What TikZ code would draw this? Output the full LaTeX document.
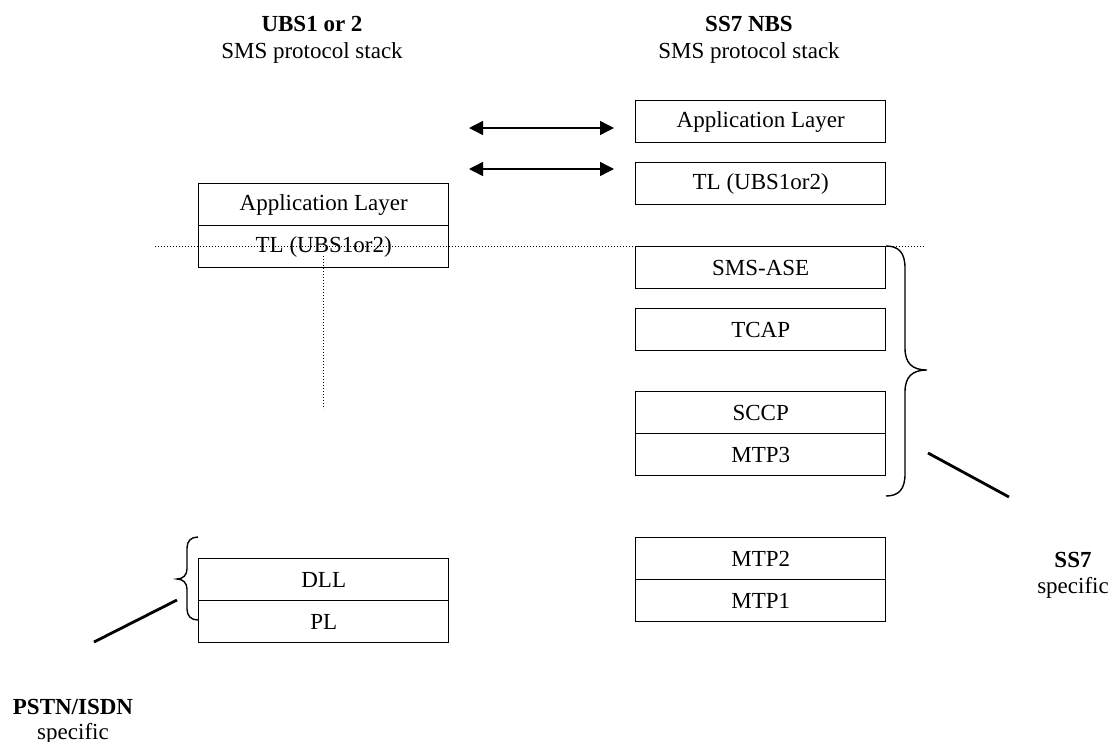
\documentclass[tikz,border=0pt]{standalone}
\usepackage{fontspec}
\setmainfont{Liberation Serif}
\usetikzlibrary{arrows.meta}
\tikzset{
  layer/.style={draw, line width=1.4pt, minimum width=250pt, minimum height=42pt, inner sep=0pt, anchor=north west, font=\fontsize{23}{27}\selectfont},
  lbl/.style={anchor=base, inner sep=0pt, font=\fontsize{23}{27}\selectfont},
  blbl/.style={lbl, font=\fontsize{23}{27}\selectfont\bfseries},
  dots/.style={line width=0.9pt, dash pattern=on 1.1pt off 1.9pt},
  peer/.style={{Triangle[length=14pt,width=14pt]}-{Triangle[length=14pt,width=14pt]}, line width=1.4pt},
  slash/.style={line width=2.8pt},
  brace/.style={line width=1.4pt}
}
\begin{document}
\begin{tikzpicture}[x=1pt,y=-1pt]
\useasboundingbox (0,0) rectangle (1109,742);
% headers
\node[blbl] (h1) at (312,31) {UBS1 or 2};
\node[lbl] (h1b) at (312,58) {SMS protocol stack};
\node[blbl] (h2) at (749,31) {SS7 NBS};
\node[lbl] (h2b) at (749,58) {SMS protocol stack};
% left stack
\node[layer] (lapp) at (198,183) {Application Layer};
\node[layer] (ltl) at (198,225) {TL (UBS1or2)};
\node[layer] (dll) at (198,558) {DLL};
\node[layer] (pl) at (198,600) {PL};
% right stack
\node[layer] (rapp) at (635,100) {Application Layer};
\node[layer] (rtl) at (635,162) {TL (UBS1or2)};
\node[layer] (ase) at (635,246) {SMS-ASE};
\node[layer] (tcap) at (635,308) {TCAP};
\node[layer] (sccp) at (635,391) {SCCP};
\node[layer] (mtp3) at (635,433) {MTP3};
\node[layer] (mtp2) at (635,537) {MTP2};
\node[layer] (mtp1) at (635,579) {MTP1};
% peer arrows
\coordinate (a1l) at (469,128); \coordinate (a1r) at (614,128);
\coordinate (a2l) at (469,169); \coordinate (a2r) at (614,169);
\draw[peer] (a1l) -- (a1r);
\draw[peer] (a2l) -- (a2r);
% dotted lines
\coordinate (dl) at (155,246); \coordinate (dr) at (925,246);
\draw[dots] (dl) -- (dr);
\coordinate (vt) at (323,256); \coordinate (vb) at (323,409);
\draw[dots] (vt) -- (vb);
% right brace
\draw[brace] (886,246) .. controls (899,246) and (905,253) .. (905,268) -- (905,348)
  .. controls (905,363) and (912,370) .. (927,370)
  .. controls (912,370) and (905,377) .. (905,392) -- (905,474)
  .. controls (905,489) and (899,496) .. (886,496);
% left brace
\draw[brace] (198,537) .. controls (191,537) and (187,541) .. (187,548) -- (187,569)
  .. controls (187,575) and (183,579) .. (177,579)
  .. controls (183,579) and (187,583) .. (187,589) -- (187,609)
  .. controls (187,616) and (191,620) .. (198,620);
% slashes
\coordinate (s1a) at (928,453); \coordinate (s1b) at (1009,497);
\draw[slash] (s1a) -- (s1b);
\coordinate (s2a) at (177,600); \coordinate (s2b) at (94,642);
\draw[slash] (s2a) -- (s2b);
% side labels
\node[blbl] (ss7) at (1073,567) {SS7};
\node[lbl] (ss7b) at (1073,593) {specific};
\node[blbl] (pstn) at (73,714) {PSTN/ISDN};
\node[lbl] (pstnb) at (73,739) {specific};
\end{tikzpicture}
\end{document}
